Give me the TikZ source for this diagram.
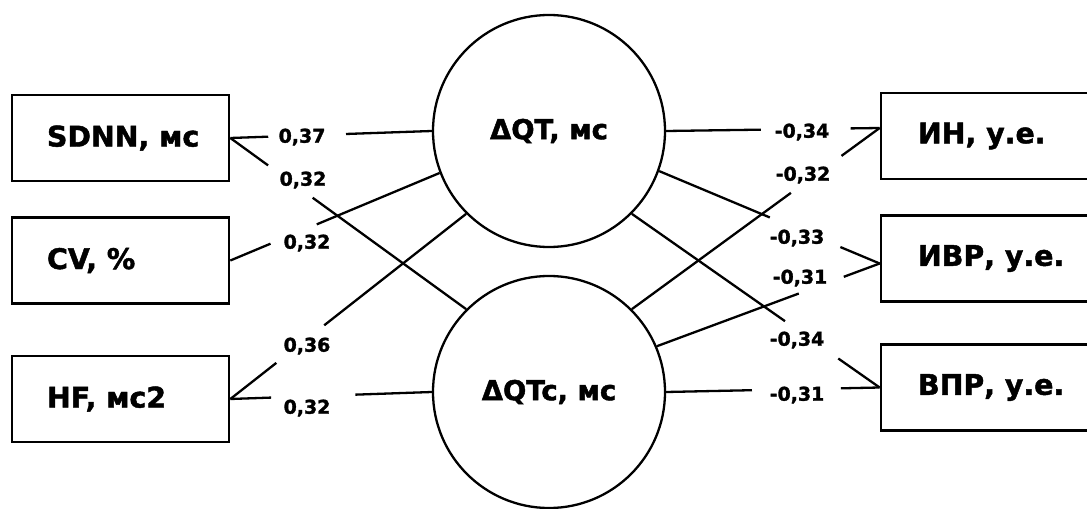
\documentclass[tikz,border=0pt]{standalone}
\usepackage{fontspec}
\setmainfont{DejaVu Sans}[BoldFeatures={FakeBold=1.6}]
\usetikzlibrary{calc}
\begin{document}
\begin{tikzpicture}[x=1bp,y=-1bp,
  box/.style={draw, line width=2.7bp, minimum height=86bp, inner xsep=35bp, inner ysep=0pt,
    font=\bfseries\fontsize{28.5}{30}\selectfont},
  circ/.style={draw, circle, line width=2.3bp, minimum size=232bp, inner sep=0pt,
    font=\bfseries\fontsize{27.5}{29}\selectfont},
  lab/.style={font=\bfseries\fontsize{19}{21}\selectfont, inner sep=0pt},
  conn/.style={line width=2.3bp}]
\useasboundingbox (0,0) rectangle (1087,509);
% boxes
\node[box] (sdnn) at (120.5,138)   {\makebox[147bp][l]{SDNN, мс}};
\node[box] (cv)   at (120.5,260.5) {\makebox[147bp][l]{CV, \%}};
\node[box] (hf)   at (120.5,399)   {\makebox[147bp][l]{HF, мс2}};
\node[box, inner xsep=37bp] (in)  at (993,136)   {\makebox[150bp][l]{ИН, у.е.}};
\node[box, inner xsep=37bp] (ivr) at (993,258.5) {\makebox[150bp][l]{ИВР, у.е.}};
\node[box, inner xsep=37bp] (vpr) at (993,387.5) {\makebox[150bp][l]{ВПР, у.е.}};
% circles
\node[circ] (qt)  at (549,131) {ΔQT, мс};
\node[circ] (qtc) at (549,392) {ΔQTc, мс};
\coordinate (inw)  at ([yshift=8bp]in.west);
\coordinate (ivrw) at ([yshift=-5bp]ivr.west);
% labels
\node[lab] (l1)  at (302,137) {0,37};
\node[lab] (l2)  at (303,180) {0,32};
\node[lab] (l3)  at (307,243) {0,32};
\node[lab] (l4)  at (307,346) {0,36};
\node[lab] (l5)  at (307,408) {0,32};
\node[lab] (r1)  at (802,132) {-0,34};
\node[lab] (r2)  at (803,175) {-0,32};
\node[lab] (r3)  at (797,238) {-0,33};
\node[lab] (r4)  at (800,278) {-0,31};
\node[lab] (r5)  at (797,340) {-0,34};
\node[lab] (r6)  at (797,395) {-0,31};
% connectors (broken around their labels)
\draw[conn] (sdnn.east) -- ($(sdnn.east)!0.188!(qt.west)$) ($(sdnn.east)!0.574!(qt.west)$) -- (qt.west);
\draw[conn] (sdnn.east) -- ($(sdnn.east)!0.16!(qtc.135)$) ($(sdnn.east)!0.349!(qtc.135)$) -- (qtc.135);
\draw[conn] (cv.east) -- ($(cv.east)!0.192!(qt.201)$) ($(cv.east)!0.413!(qt.201)$) -- (qt.201);
\draw[conn] (hf.east) -- ($(hf.east)!0.195!(qt.225)$) ($(hf.east)!0.398!(qt.225)$) -- (qt.225);
\draw[conn] (hf.east) -- ($(hf.east)!0.202!(qtc.west)$) ($(hf.east)!0.62!(qtc.west)$) -- (qtc.west);
\draw[conn] (qt.east) -- ($(qt.east)!0.444!(inw)$) ($(qt.east)!0.864!(inw)$) -- (inw);
\draw[conn] (qtc.45) -- ($(qtc.45)!0.642!(inw)$) ($(qtc.45)!0.846!(inw)$) -- (inw);
\draw[conn] (qt.340) -- ($(qt.340)!0.502!(ivrw)$) ($(qt.340)!0.822!(ivrw)$) -- (ivrw);
\draw[conn] (qtc.23) -- ($(qtc.23)!0.637!(ivrw)$) ($(qtc.23)!0.839!(ivrw)$) -- (ivrw);
\draw[conn] (qt.315) -- ($(qt.315)!0.618!(vpr.west)$) ($(qt.315)!0.833!(vpr.west)$) -- (vpr.west);
\draw[conn] (qtc.east) -- ($(qtc.east)!0.402!(vpr.west)$) ($(qtc.east)!0.818!(vpr.west)$) -- (vpr.west);
\end{tikzpicture}
\end{document}
